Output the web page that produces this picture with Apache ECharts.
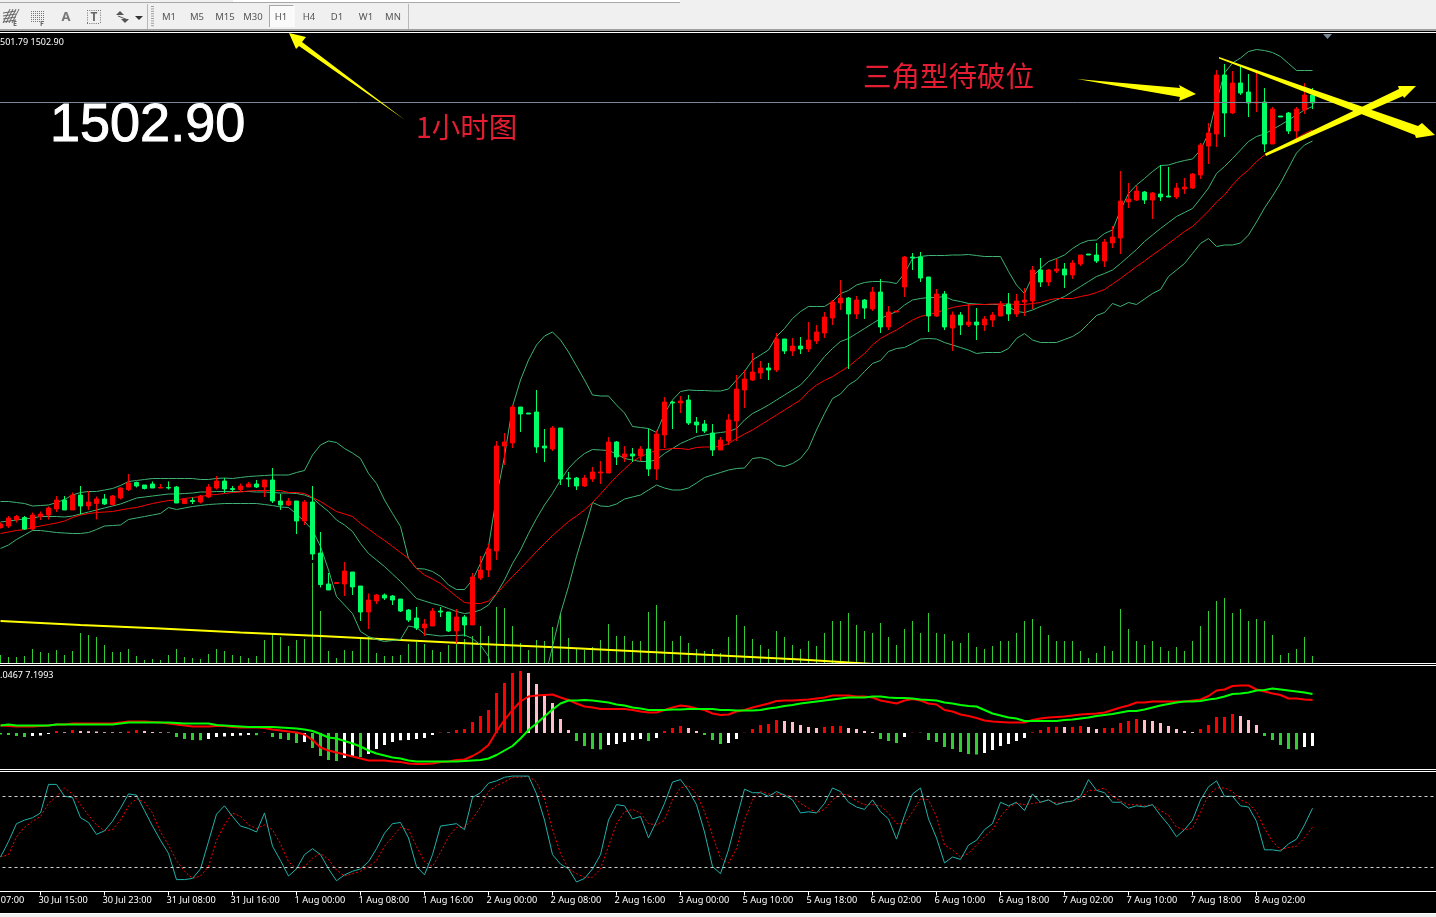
<!DOCTYPE html>
<html><head><meta charset="utf-8"><style>html,body{margin:0;padding:0;background:#000;overflow:hidden}#c{width:1436px;height:917px}</style>
<script src="https://cdn.jsdelivr.net/npm/echarts@6/dist/echarts.min.js"></script></head>
<body><div id="c"></div>
<script>
// [open, close, low, high] per hourly bar
const ohlc=[[1417.8,1418.5,1417.6,1418.8],[1418.1,1419.7,1417.7,1420.1],[1419.4,1420,1418.8,1420.3],[1419.8,1417.5,1417.3,1420.1],[1417.5,1420.3,1417.3,1420.8],[1420,1420.5,1419.3,1421],[1420.3,1421.7,1419.4,1422],[1421.5,1423.3,1420.9,1424.1],[1423.3,1421.3,1421.3,1424.1],[1421.3,1424.3,1421.3,1424.8],
[1424.3,1422.1,1420.4,1426.1],[1422.1,1422.9,1421.3,1425.1],[1422.6,1423.5,1419.4,1424],[1423.5,1422.5,1422.3,1424.5],[1422.4,1424.1,1422.2,1424.3],[1423.7,1425.7,1423.4,1425.8],[1425.4,1426.7,1425.1,1428.5],[1426.8,1426.1,1425.8,1427],[1426.3,1425.6,1425.4,1426.3],[1426.5,1425.7,1425.7,1427],
[1425.7,1425.8,1425.7,1426.5],[1425.8,1425.7,1425.4,1427],[1425.9,1422.7,1422.7,1426.1],[1422.6,1423.4,1422.5,1423.6],[1423.2,1423,1422.5,1423.8],[1422.9,1424.1,1422.6,1424.3],[1423.9,1425.9,1423.7,1426.5],[1425.7,1427.1,1425.4,1428.1],[1427.1,1425.5,1424.7,1427.7],[1425.6,1425.4,1424.9,1426.1],
[1425.4,1426.1,1424.9,1426.6],[1425.9,1426.5,1425.9,1426.9],[1426.5,1425.9,1425.7,1427.3],[1425.9,1427.3,1423.9,1427.3],[1427.3,1423.1,1422.7,1429.7],[1423.1,1422.3,1421.3,1424.5],[1422.3,1423.1,1422.1,1423.7],[1423.1,1419.1,1416.5,1423.1],[1419.1,1422.9,1418.3,1423.3],[1422.9,1412.5,1411.3,1426.1],
[1412.7,1406.4,1405.8,1416.9],[1406.5,1405.3,1405.3,1408.7],[1406.6,1406.8,1406.6,1406.8],[1406.5,1409.1,1404.1,1410.9],[1408.9,1405.9,1404.3,1408.9],[1406.1,1400.9,1399.1,1406.1],[1400.9,1403.3,1397.5,1404.6],[1403.1,1404.3,1402.5,1404.5],[1404.3,1403.7,1403.3,1404.6],[1404.1,1403.3,1402.3,1404.3],
[1403.5,1401.1,1400.9,1403.5],[1401.3,1399.3,1398.9,1401.5],[1399.7,1397.7,1397.3,1401.9],[1397.7,1398.5,1396.1,1399.5],[1398.1,1401.1,1398.1,1401.7],[1401.1,1400.9,1399.9,1401.9],[1400.9,1397.1,1396.9,1400.9],[1397.1,1399.9,1394.6,1401.5],[1399.9,1398.3,1396,1400.3],[1398.3,1407.9,1398.3,1408.7],
[1407.7,1409.3,1407.3,1412.1],[1409.3,1413.5,1407.9,1414.5],[1413.1,1434.1,1411.3,1435.1],[1434.1,1434.9,1430.3,1436.7],[1434.7,1441.9,1433.7,1442.3],[1441.9,1440.5,1436.9,1441.9],[1440.7,1440.5,1440.5,1440.7],[1440.9,1433.9,1432.7,1445.3],[1434.1,1433.7,1430.9,1437.5],[1433.5,1437.7,1433.1,1438.1],
[1437.7,1427.5,1426.3,1437.7],[1427.7,1427.5,1425.9,1428.9],[1427.7,1426.1,1425.3,1427.9],[1426.1,1427.7,1425.9,1428.3],[1427.5,1428.9,1426.9,1429.9],[1428.7,1428.9,1426.5,1431.1],[1428.7,1434.9,1428.7,1435.9],[1434.9,1431.9,1430.3,1435.1],[1431.9,1432.5,1430.9,1434.1],[1432.5,1432.1,1430.9,1433.7],
[1432.1,1433.5,1431.1,1434.1],[1433.5,1429.5,1428.1,1437.6],[1429.5,1436.5,1427.3,1437.2],[1436.3,1442.9,1433.7,1443.9],[1442.9,1442.7,1437.5,1443.1],[1442.7,1443.1,1440.7,1444.1],[1443.3,1438.7,1438.3,1444.3],[1438.9,1438.3,1436.7,1439.9],[1438.5,1437.1,1436.7,1439.3],[1436.7,1433.3,1432.1,1438.5],
[1433.3,1435.3,1433.3,1435.9],[1435.1,1439.3,1434.3,1440.5],[1439.1,1445.5,1435.1,1448.3],[1445.3,1447.5,1441.7,1449.3],[1447.3,1448.9,1447.1,1452.7],[1448.7,1449.7,1447.5,1451.1],[1449.7,1449.3,1447.3,1450.7],[1449.3,1455.5,1448.9,1456.7],[1455.5,1453.1,1452.5,1455.5],[1453.1,1454.1,1452.1,1455.7],
[1454.1,1453.5,1452.5,1455.9],[1453.5,1455.3,1452.9,1458.9],[1455.1,1456.9,1454.5,1458.3],[1456.7,1459.9,1455.7,1460.9],[1459.7,1462.9,1458.3,1463.3],[1462.7,1463.7,1461.3,1467.3],[1463.7,1460.5,1449.5,1463.9],[1460.5,1463.3,1459.5,1464.1],[1463.3,1461.7,1459.5,1463.5],[1461.5,1464.9,1461.1,1465.9],
[1464.9,1457.9,1456.7,1467.5],[1457.9,1460.9,1457.3,1462.1],[1460.9,1461.1,1460.9,1461.1],[1465.9,1471.9,1463.9,1472.1],[1471.9,1471.7,1469.3,1472.7],[1471.9,1467.7,1466.9,1472.9],[1467.9,1460.1,1456.9,1467.9],[1460.1,1464.5,1459.9,1465.5],[1464.5,1457.9,1457.3,1465.1],[1457.7,1460.3,1453.1,1461],
[1460.3,1458.3,1456.3,1460.9],[1458.3,1458.9,1457.9,1462.5],[1458.9,1458.3,1455.3,1461.7],[1458.3,1459.5,1457.1,1460.1],[1459.3,1460.3,1457.9,1460.9],[1460.1,1462.5,1460.1,1463.1],[1462.5,1460.5,1459.1,1464.7],[1460.5,1463.1,1459.9,1464.5],[1462.9,1463.3,1460.1,1465.7],[1463.1,1469.3,1461.5,1470.1],
[1469.3,1466.9,1465.9,1471.7],[1466.9,1469.3,1466.1,1469.5],[1469.1,1469.5,1468.7,1471.5],[1469.5,1468.3,1465.7,1470.7],[1468.3,1470.7,1467.5,1471.3],[1470.5,1472.3,1470.1,1472.3],[1472.5,1472.3,1472.3,1472.5],[1472.3,1471.1,1470.7,1474.7],[1471.1,1474.9,1469.9,1475.5],[1474.7,1475.9,1473.7,1478.1],
[1475.7,1483.1,1472.5,1489.1],[1482.9,1483.5,1481.7,1486.7],[1483.3,1485.1,1483.1,1486.1],[1484.9,1483.3,1482.5,1485.1],[1483.3,1484.7,1479.5,1484.9],[1484.5,1483.9,1483.1,1490.3],[1484.1,1483.9,1483.9,1489.9],[1483.9,1485.7,1483.5,1486.7],[1485.5,1485.9,1484.5,1487.7],[1485.7,1488.5,1485.5,1488.7],
[1488.3,1494.3,1487.5,1494.7],[1494.1,1496.7,1490.5,1498.7],[1496.5,1508.3,1493.9,1509.3],[1508.3,1500.7,1495.9,1510.5],[1500.7,1506.7,1500.5,1509.1],[1506.7,1504.7,1504.3,1510.1],[1504.9,1502.7,1499.9,1508.5],[1502.7,1502.9,1500.9,1508.9],[1502.9,1494.5,1492.9,1505.7],[1494.5,1501.5,1494.5,1501.9],
[1500.1,1499.9,1499.9,1500.1],[1500.7,1497.1,1496.5,1500.9],[1497.1,1501.5,1494.7,1501.9],[1501.3,1504.3,1500.5,1506.7],[1504.3,1502.7,1501.5,1505.7]];
const bollUpper=[1423,1423,1422.8,1422.6,1422.1,1422.2,1422.3,1422.8,1423.4,1424.3,1424.8,1425,1425,1425.3,1425.6,1426.2,1427,1427.2,1427.4,1427.6,1427.6,1427.6,1427.6,1427.6,1427.6,1427.4,1427.4,1427.6,1427.7,1427.6,1427.8,1428,1428.1,1428.2,1428.3,1428.3,1428.3,1428.8,1429.2,1432.3,1434.3,1435.1,1434.8,1433.6,1432.7,1431.6,1428.6,1426.6,1423.3,1420.6,1418,1411.6,1409.6,1409.5,1409,1408,1406.3,1405.4,1405.4,1407.3,1410.6,1414,1424,1432,1442,1447.3,1451.3,1454.3,1456.1,1456.9,1455.3,1452.9,1450.1,1447.3,1444.3,1444.1,1444.1,1442.3,1440.7,1438,1437.8,1437.6,1436.8,1440.6,1443.3,1445,1445.3,1445.2,1445.2,1445.1,1445.1,1445.5,1447.3,1449,1451.3,1452.3,1453.3,1456,1457.6,1459.6,1461,1462,1462,1462,1463,1464.6,1465.2,1466.3,1466.8,1467,1467,1466.9,1466.6,1468.6,1471.6,1472,1472.2,1472.2,1472.2,1472.3,1472.3,1472.4,1472.2,1472,1472,1472,1469,1466.3,1464.6,1468,1469.6,1471,1471.6,1472.3,1473.6,1474.6,1475.2,1475.3,1476.6,1477.3,1481.3,1484.6,1486.3,1487.6,1489,1490.2,1490.3,1490.8,1491.2,1491.5,1493.3,1496.6,1503,1508.7,1510.7,1511.7,1513,1513.4,1513.2,1512.8,1512,1510.6,1509.2,1509.2,1509.2];
const bollMid=[1418.9,1419.1,1419.3,1419.5,1419.7,1420,1420,1420,1419.9,1420.1,1420.5,1420.9,1421.3,1421.7,1422.1,1422.5,1423.1,1423.7,1423.9,1424.1,1424.3,1424.5,1424.5,1424.6,1424.7,1424.9,1424.9,1425,1425,1425,1425,1425,1424.9,1424.9,1424.8,1424.7,1424.7,1424.6,1424.3,1423.7,1422.3,1421,1419.3,1418.3,1417,1414.6,1412.6,1411.3,1410,1408.5,1407,1405.3,1403.6,1403.1,1402.6,1402.2,1401.6,1401,1400.6,1400.8,1401.3,1402.3,1404.6,1407.3,1410.6,1413.3,1416.6,1419.6,1422.3,1424.6,1427.3,1429.6,1431.3,1432.6,1433.4,1433.3,1433.2,1432.5,1431.6,1431.3,1431,1431,1431.3,1432.6,1433.6,1434.6,1435.3,1436,1436.3,1436.6,1436.8,1437,1437.6,1439.3,1440.6,1441.4,1442.3,1443.3,1444.3,1445.3,1446.3,1448,1450,1452,1453.6,1455,1455.6,1456.6,1457.6,1458.6,1459.6,1460.3,1461,1462.3,1463.3,1463.6,1463.8,1463.8,1464,1463.3,1463,1462.6,1462.5,1462.4,1462.4,1462.4,1462,1461,1460.8,1461.3,1462,1462.6,1463.3,1464,1465,1466,1467,1468,1468.6,1469.3,1470.6,1472,1473.4,1475,1476.3,1477.6,1478.8,1480,1480.8,1481.6,1483.6,1485.7,1488.6,1490,1491.6,1493.3,1495,1496,1496.5,1497.4,1498.3,1499.3,1500.3,1501.3,1502];
const bollLower=[1413.6,1414.3,1415.4,1416.3,1417.2,1417.2,1417,1416.8,1416.7,1416.6,1416.6,1416.8,1417.4,1418.1,1418.2,1418.3,1419.4,1419.7,1420,1420.3,1420.6,1421.8,1421.4,1421.7,1422,1422.2,1422.4,1422.5,1422.6,1422.6,1422.6,1422.6,1422.6,1422.4,1422.2,1421.9,1421.8,1420.5,1419,1417.3,1414,1409.3,1404,1402.3,1400.6,1397,1396,1395.4,1395,1395.2,1395.4,1398.1,1397.8,1396.5,1396.3,1396.1,1396.2,1396.2,1396.3,1395.6,1394.3,1392,1385.3,1380.3,1376.3,1374.3,1377.3,1383.3,1387.3,1394,1400.6,1406,1412,1417.3,1422.8,1422.1,1422,1422.5,1423.5,1423.9,1424.3,1425.3,1426.3,1425.7,1425.3,1425.3,1425.7,1426.7,1427.8,1428.3,1428.8,1429.3,1429.6,1429.7,1431.6,1431.8,1431.4,1430.3,1430,1430.6,1431.6,1433.6,1437.3,1440.6,1443.6,1444.5,1446.3,1447.3,1449,1450.6,1451.2,1453,1453.6,1453.8,1454.6,1455.5,1455.6,1455.5,1454.8,1454.3,1453.8,1453.3,1452.6,1452.8,1452.8,1452.8,1453.6,1455.6,1456.6,1455.3,1454.8,1454.8,1454.8,1455.4,1456,1457,1458.6,1460.2,1460.8,1462.6,1462,1462.8,1462.4,1463.5,1464.6,1465.4,1468,1469.3,1470.6,1472.6,1474.6,1475.6,1474,1474.3,1474.3,1474.7,1476.3,1478.9,1481.7,1484.1,1486.7,1489.7,1492.7,1494.3,1495.1];
const maRed=[1416.6,1416.9,1417.2,1417.4,1417.8,1418.1,1418.4,1418.7,1419.1,1419.8,1420.3,1420.6,1420.8,1420.9,1421,1421.3,1421.6,1421.8,1422.2,1422.6,1422.9,1423.2,1423.3,1423.6,1423.8,1424,1424.3,1424.4,1424.6,1424.8,1424.9,1425.1,1425.2,1425.2,1425.2,1425.2,1424.8,1424.8,1424.6,1423.8,1423,1422,1421,1420.5,1420,1418.6,1417.5,1416.3,1415.2,1414,1412.8,1411.6,1409.6,1408.3,1407.5,1406.6,1405.3,1404,1402.8,1402.6,1402.6,1403.1,1404.6,1406.3,1408,1409.6,1411.3,1413,1414.6,1416.2,1417.6,1419,1420.1,1421.3,1422.8,1424.5,1426.3,1428,1429.5,1431,1432,1432.6,1433.3,1433.4,1433.6,1433.6,1433.4,1433.8,1433.9,1433.9,1434,1434.6,1435.6,1436.5,1437.3,1438.3,1439.3,1440.3,1441.3,1442.3,1443.3,1445,1446.3,1447.2,1448,1449,1450,1451.3,1452.6,1454.3,1455.6,1456.5,1457.3,1458.3,1459.3,1460,1460.4,1460.8,1461.3,1461.8,1462.1,1462.3,1462.4,1462.4,1462.5,1462.5,1462.5,1462.4,1462.4,1462.6,1462.8,1463.3,1463.6,1463.6,1463.6,1464,1464.3,1464.8,1465.4,1466.5,1467.6,1468.8,1470,1471.1,1472.3,1473.4,1474.6,1475.8,1477,1478,1479.5,1481.1,1482.9,1484.3,1486.3,1488,1489.3,1491,1492.3,1493,1493.8,1494.6,1495.6,1496.6,1497.3];
// long moving average, read at every tenth bar: [bar, price]
const maLong=[[0,1399.1],[10,1398.3],[20,1397.6],[30,1396.8],[40,1396.1],[50,1395.3],[60,1394.5],[70,1393.8],[80,1393],[90,1392.2],[100,1391.4],[110,1390.4]];
const volume=[80,60,60,70,140,110,100,130,80,120,300,280,260,180,110,110,140,70,30,40,30,80,140,60,50,40,90,140,120,80,70,50,70,230,290,260,170,230,240,1000,520,120,50,130,120,240,260,100,70,70,80,190,210,190,130,110,180,300,240,270,370,270,560,550,370,200,130,230,220,360,500,250,150,130,160,230,390,270,270,220,220,510,580,420,220,270,200,140,120,140,100,260,480,370,240,180,140,320,260,180,140,220,170,300,420,420,500,380,320,300,400,260,180,340,420,300,500,300,290,220,200,300,160,140,170,220,220,300,420,440,370,280,220,220,220,120,50,100,170,120,540,340,220,180,220,160,120,160,120,220,370,520,620,650,500,540,420,440,420,280,80,100,140,260,70];
const macdHist=[-.3,-.4,-.6,-.8,-.6,-.5,-.2,.4,.15,.6,.4,.35,.3,.16,.14,.12,.3,.6,.4,.2,.14,.1,-.8,-1.2,-1.4,-1.45,-1.2,-.8,-.7,-.6,-.5,-.4,-.45,.1,-.8,-1.2,-1.4,-2,-1.8,-3,-4.6,-5.4,-5.6,-5,-4.6,-4.8,-4.2,-3.2,-2.4,-1.8,-1.45,-1.4,-1.2,-1,-.4,.1,.09,.6,.8,2.2,3.4,4.6,8,10,12,12.4,12,9.8,7.4,6,2.8,.6,-1.6,-2.6,-3.2,-3.3,-2.4,-2.2,-1.8,-1.4,-1.2,-1.6,-1,.4,1,1.4,1,.4,-.4,-1.4,-2.2,-2,-1.2,.06,.8,1.6,1.8,2.6,2.4,2.2,1.6,1.2,1,1.2,1.4,1.42,1,.8,.4,.2,-1.2,-1.6,-2,-.8,.06,.04,-1.4,-1.8,-2.8,-3.2,-3.8,-4.2,-4.3,-4,-3.4,-2.6,-2.2,-1.6,-1,.14,.6,1.2,1.24,1.2,1.22,1.4,1.2,.8,1,1.02,2,2.4,2.8,2.6,2.4,2,1.4,.8,.4,.2,.8,1.6,3.2,3.22,3.8,3.4,2.6,1.6,-.6,-1.4,-2.4,-3.2,-3.3,-2.8,-2.6];
const macdRed=[1.5,1.4,1.3,1.3,1.3,1.4,1.5,1.7,1.7,1.9,1.9,1.9,1.9,1.9,1.9,2.1,2.3,2.3,2.3,2.2,2.1,1.9,1.7,1.5,1.3,1.3,1.3,1.4,1.4,1.2,1.1,1.1,1.1,1,.7,.5,.3,.1,-.3,-1.4,-2.9,-3.5,-3.9,-4.3,-4.7,-5.1,-5.5,-5.5,-5.5,-5.7,-5.8,-6.1,-6.2,-6.2,-6.1,-5.8,-5.7,-5.4,-5.3,-4.6,-3.7,-2.4,.3,2.6,4.6,6.3,7.3,7.5,7.6,7.7,7.1,6.6,5.9,5.3,5.1,4.8,4.8,4.8,4.8,4.6,4.3,4.1,4.1,4.6,5.1,5.5,5.3,4.9,4.6,3.9,3.6,3.7,4.3,4.6,5.1,5.5,5.9,6.4,6.5,6.5,6.6,6.7,6.9,7.1,7.5,7.5,7.5,7.3,7.3,7.1,6.5,6.2,5.9,6.5,6.8,6.5,5.9,5.7,4.6,4.3,3.7,3.4,3,2.5,2.3,2.2,2.1,2.1,2.1,2.6,2.9,3.1,3.2,3.3,3.5,3.7,3.8,3.9,4.1,4.6,5.1,5.5,6.1,6.1,6.3,6.3,6.3,6.3,6.3,6.5,6.7,7.4,8.5,8.7,9.4,9.5,9.5,8.7,8.3,7.9,7.6,6.9,6.9,6.7,6.6];
const macdGreen=[1.5,1.7,1.5,1.5,1.5,1.5,1.5,1.7,1.7,1.7,1.7,1.7,1.7,1.7,1.7,1.9,2.1,2.1,2.1,2.1,2.1,2.1,2,1.9,1.9,1.9,1.9,1.6,1.5,1.4,1.3,1.2,1.2,1.2,1.2,1.1,1,.9,.7,.4,-.2,-.9,-1.1,-1.6,-2.1,-2.7,-3.5,-4.1,-4.5,-4.9,-5.1,-5.5,-5.7,-5.7,-5.7,-5.7,-5.7,-5.7,-5.6,-5.5,-5.4,-5.1,-4.4,-3.5,-2.6,-1.1,.6,1.9,3.3,4.7,5.9,6.5,6.5,6.6,6.5,6.3,6.1,5.7,5.5,5.1,4.9,4.6,4.6,4.6,4.7,4.7,4.8,4.8,4.8,4.8,4.6,4.6,4.5,4.5,4.5,4.6,4.9,5.1,5.4,5.6,5.9,6.1,6.3,6.5,6.7,6.9,7.1,7.1,7.1,7.3,7.3,7.1,7,7,6.9,6.7,6.6,6.5,6.1,5.9,5.6,5.4,5.3,4.6,3.9,3.5,3.1,2.9,2.4,2.4,2.4,2.4,2.4,2.6,2.7,2.9,3.1,3.4,3.6,3.8,4.1,4.4,4.4,4.7,5.1,5.5,5.8,6.1,6.3,6.3,6.4,6.7,6.9,7.3,7.8,7.9,8.1,8.5,8.6,8.9,8.7,8.5,8.3,8.1,7.8];
const stochMain=[29,42,57,60,62,66,90,90,80,79,62,58,48,51,59,70,82,81,68,55,43,32,10,10,11,19,42,65,72,63,55,53,50,66,38,26,13,19,31,36,31,19,9,14,17,19,25,36,49,57,58,45,21,14,31,55,56,57,52,79,83,91,93,96,97,97,97,82,60,31,23,19,8,11,19,31,60,73,72,61,63,45,59,74,92,94,85,73,50,21,15,35,61,86,83,83,80,84,81,77,66,67,66,74,87,84,75,71,69,77,67,61,44,64,82,87,61,45,24,29,27,39,43,52,57,75,72,75,68,82,75,77,73,75,76,80,94,85,83,75,75,70,72,71,73,64,56,46,52,60,77,88,93,80,80,72,71,59,35,35,34,40,44,56,70];
const stochSignal=[29,31,46,54,59,63,74,80,87,82,73,64,56,51,52,60,72,78,75,66,50,39,26,17,11,13,21,43,56,66,63,56,53,56,52,40,25,19,21,28,32,27,18,13,15,17,21,26,38,46,54,52,38,25,21,33,46,54,54,61,71,84,89,92,96,96,97,92,78,52,32,19,15,12,12,19,38,57,67,69,66,57,56,60,77,87,89,82,67,47,28,24,36,60,77,84,82,82,81,80,74,70,66,69,77,82,81,76,73,73,72,66,57,57,67,78,77,63,39,35,29,32,39,46,52,63,71,74,73,74,75,77,74,75,76,78,85,85,87,80,76,73,73,72,73,68,64,54,52,53,67,81,87,87,84,77,74,67,53,42,35,37,38,45,54];
const tickLabels=['30 Jul 15:00','30 Jul 23:00','31 Jul 08:00','31 Jul 16:00','1 Aug 00:00','1 Aug 08:00','1 Aug 16:00','2 Aug 00:00','2 Aug 08:00','2 Aug 16:00','3 Aug 00:00','5 Aug 10:00','5 Aug 18:00','6 Aug 02:00','6 Aug 10:00','6 Aug 18:00','7 Aug 02:00','7 Aug 10:00','7 Aug 18:00','8 Aug 02:00'];
const firstTick=5, tickStep=8, barSlots=180;
const lastPrice=1502.90, stochLevels=[20,80];
const toolbarLabels=['M1','M5','M15','M30','H1','H4','D1','W1','MN'];

const categories=Array.from({length:barSlots},(_,i)=>{
  const n=(i-firstTick)/tickStep; return Number.isInteger(n)&&tickLabels[n]?tickLabels[n]:'';
});
const isTick=i=>categories[i]!=='';
const histColor=p=>{
  const v=p.value, prev=p.dataIndex?macdHist[p.dataIndex-1]:0;
  if(v>0) return v>=prev?'#ff0000':'#ffc0cb';
  return v<prev?'#32cd32':'#ffffff';
};
const lineS=(data,color,width,extra)=>Object.assign({type:'line',data,symbol:'none',smooth:false,silent:true,clip:true,
  lineStyle:{color,width},xAxisIndex:0,yAxisIndex:0,z:2},extra||{});
const bg='#f0f0f0', tf='#555555';

const graphic=[];
const rect=(x,y,w,h,fill,z)=>graphic.push({type:'rect',shape:{x,y,width:w,height:h},style:{fill},z:z||50,silent:true});
const line=(x1,y1,x2,y2,stroke,z)=>graphic.push({type:'line',shape:{x1,y1,x2,y2},style:{stroke,lineWidth:1},z:z||51,silent:true});
const txt=(text,x,y,font,fill,align,extra)=>graphic.push({type:'text',style:Object.assign({text,x,y,font,fill,textAlign:align||'left',textVerticalAlign:'middle'},extra||{}),z:60,silent:true});
const poly=(points,fill)=>graphic.push({type:'polygon',shape:{points},style:{fill},z:70,silent:true});
// toolbar
rect(0,0,1436,30,bg);
rect(233,0,447,2,'#ffffff');
line(0,2.5,680,2.5,'#a8a8a8');
rect(0,29,1436,2,'#a0a0a0');
rect(0,31,1436,1,'#000000');
line(0,32.5,1436,32.5,'#ffffff');
line(147.5,4,147.5,29,'#b8b8b8');line(408.5,4,408.5,29,'#b8b8b8');
for(let i=0;i<9;i++) rect(151,6+i*2.4,3,1,'#a0a0a0');
rect(269,5,25,22,'#fafafa');
line(269.5,5,269.5,27,'#a8a8a8');line(269,5.5,294,5.5,'#a8a8a8');line(294,5,294,27,'#ffffff');
const tbX=[169,197,225,253,281,309,337,366,393];
toolbarLabels.forEach((t,i)=>txt(t,tbX[i],17.5,'9.5px "Noto Sans"',tf,'center'));
// drawing tool icons
for(let i=0;i<4;i++){line(3+i*3,23,10+i*3,9,'#666666');line(3,13+i*3,16,11+i*3,'#666666');}
txt('E',15,24,'bold 7px "Noto Sans"','#666','center');
for(let r=0;r<6;r++)for(let c=0;c<7;c++)rect(31+c*2,11+r*2,1,1,'#777777');
txt('F',42,24,'bold 7px "Noto Sans"','#666','center');
txt('A',66,17.5,'bold 13px "Noto Sans"','#777','center');
for(let i=0;i<6;i++){rect(87+i*2.2,10,1,1,'#777');rect(87+i*2.2,23,1,1,'#777');rect(87,10+i*2.4,1,1,'#777');rect(100,10+i*2.4,1,1,'#777');}
txt('T',94,17.5,'bold 12px "Noto Sans"','#666','center');
poly([[116,15],[120,11],[124,15]],'#555');poly([[121,19],[125,23],[129,19]],'#555');line(118,16,128,20,'#555');
poly([[135,16],[143,16],[139,20]],'#333');
// pane separators
rect(0,663,1436,1,'#ffffff',52);rect(0,665,1436,1,'#ffffff',52);
rect(0,769,1436,1,'#ffffff',52);rect(0,771,1436,1,'#ffffff',52);
rect(0,913,1436,1,'#ffffff',52);rect(0,914,1436,3,bg,52);
poly([[1323,34],[1332,34],[1327.5,39]],'#778899');
// labels
txt('501.79 1502.90',0,42,'9px "Noto Sans"','#ffffff');
txt('.0467 7.1993',0,675,'9px "Noto Sans"','#ffffff');
txt('30 Jul 07:00',-25,900.5,'9.2px "Noto Sans"','#ffffff');
txt('1502.90',50,126,'54px "Liberation Sans"','#ffffff','left',{stroke:'#ffffff',lineWidth:1});
txt('三角型待破位',863,76,'28.5px "Noto Sans CJK SC"','#e41e32');
txt('1小时图',416,127,'28.5px "Noto Sans CJK SC"','#e41e32');
// hand-drawn yellow annotations
poly([[289,33],[306,37],[302,42],[405,120],[299,46],[296,49]],'#ffff00');
poly([[1077,79],[1180,88],[1179,85],[1196,94],[1179,101],[1180,97]],'#ffff00');
poly([[1219,57],[1418,126],[1422,123],[1435,135],[1416,138],[1415,135],[1219,58.5]],'#ffff00');
poly([[1265,153.5],[1399,89],[1398,86],[1416,86],[1404,98],[1403,96],[1266,156]],'#ffff00');

const hiddenX=(i)=>({type:'category',gridIndex:i,data:categories,show:false,boundaryGap:true});
const gridBase={left:-3.5,width:1440,outerBoundsMode:'none'};
const option={
  animation:false,backgroundColor:'#000000',
  grid:[Object.assign({top:34,height:629},gridBase),Object.assign({top:666,height:103},gridBase),Object.assign({top:772.5,height:119},gridBase)],
  xAxis:[hiddenX(0),hiddenX(1),{type:'category',gridIndex:2,data:categories,boundaryGap:true,
    axisLine:{show:true,lineStyle:{color:'#ffffff',width:1}},
    axisTick:{show:true,alignWithLabel:true,interval:isTick,length:4,lineStyle:{color:'#ffffff'}},
    axisLabel:{interval:isTick,align:'left',padding:[0,0,0,-2],color:'#ffffff',fontFamily:'Noto Sans',fontSize:9.2,margin:4},splitLine:{show:false}}],
  yAxis:[
    {type:'value',gridIndex:0,min:1390.7,max:1516.5,show:false,splitLine:{show:false}},
    {type:'value',gridIndex:0,min:0,max:6290,show:false,splitLine:{show:false}},
    {type:'value',gridIndex:1,min:-7.2,max:13.4,show:false,splitLine:{show:false}},
    {type:'value',gridIndex:2,min:0,max:100,show:false,splitLine:{show:false}}
  ],
  series:[
    {type:'bar',data:volume,xAxisIndex:0,yAxisIndex:1,barWidth:1,itemStyle:{color:'#32cd32'},silent:true,z:1},
    lineS(maLong,'#ffff00',2,{z:2}),
    lineS(bollUpper,'#3cb371',1),lineS(bollMid,'#3cb371',1),lineS(bollLower,'#3cb371',1),
    lineS(maRed,'#ff0000',1),
    {type:'candlestick',data:ohlc,xAxisIndex:0,yAxisIndex:0,barWidth:4,silent:true,z:3,
      itemStyle:{color:'#ff0000',color0:'#00ff66',borderColor:'#ff0000',borderColor0:'#00ff66',borderWidth:1},
      markLine:{silent:true,symbol:'none',label:{show:false},animation:false,lineStyle:{color:'#778899',width:1,type:'solid'},data:[{yAxis:lastPrice}]}},
    {type:'bar',data:macdHist,xAxisIndex:1,yAxisIndex:2,barWidth:3,silent:true,z:1,itemStyle:{color:histColor}},
    lineS(macdRed,'#ff0000',2,{xAxisIndex:1,yAxisIndex:2}),
    lineS(macdGreen,'#00ff00',2,{xAxisIndex:1,yAxisIndex:2,z:3}),
    lineS(stochSignal,'#ff0000',1,{xAxisIndex:2,yAxisIndex:3,lineStyle:{color:'#ff0000',width:1,type:[2,2]}}),
    lineS(stochMain,'#20b2aa',1,{xAxisIndex:2,yAxisIndex:3,z:3,
      markLine:{silent:true,symbol:'none',label:{show:false},animation:false,lineStyle:{color:'#d0d0d0',width:1,type:[3,3]},data:stochLevels.map(v=>({yAxis:v}))}})
  ],
  graphic:{elements:graphic}
};
const chart=echarts.init(document.getElementById('c'),null,{renderer:'canvas',width:1436,height:917});
chart.setOption(option);
</script></body></html>
